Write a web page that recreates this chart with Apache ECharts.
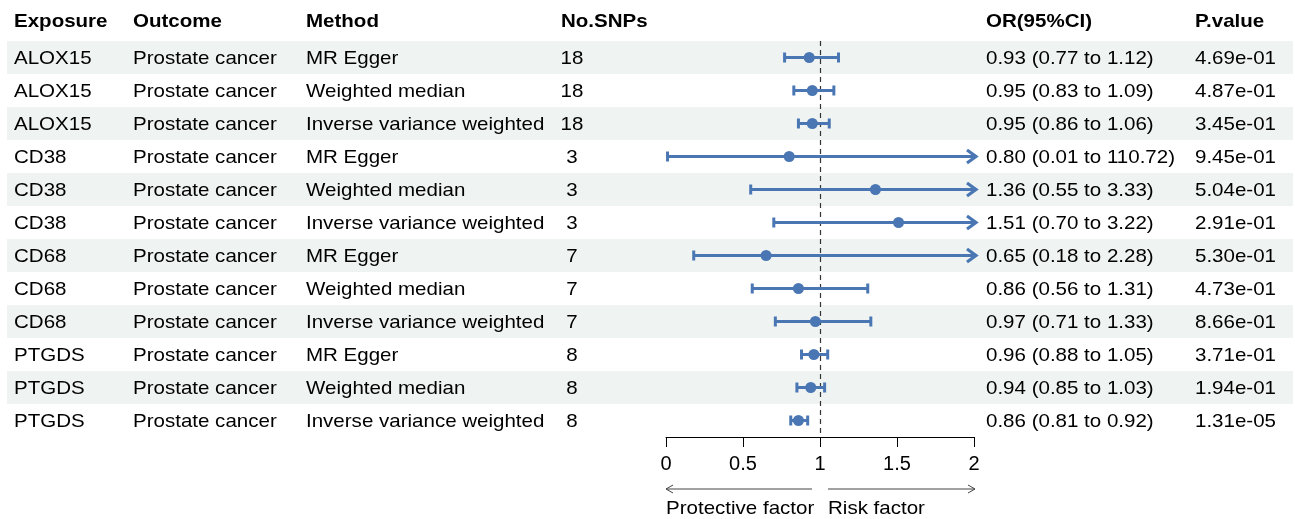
<!DOCTYPE html>
<html>
<head>
<meta charset="utf-8">
<script src="https://cdn.jsdelivr.net/npm/echarts@6/dist/echarts.min.js"></script>
<style>
  html, body { margin: 0; padding: 0; background: #ffffff; }
  #chart { width: 1295px; height: 519px; }
</style>
</head>
<body>
<div id="chart"></div>
<script>
// ---------------- data ----------------
const headers = ['Exposure', 'Outcome', 'Method', 'No.SNPs', '', 'OR(95%CI)', 'P.value'];
const exposures = ['ALOX15', 'ALOX15', 'ALOX15', 'CD38', 'CD38', 'CD38', 'CD68', 'CD68', 'CD68', 'PTGDS', 'PTGDS', 'PTGDS'];
const outcomes = ['Prostate cancer', 'Prostate cancer', 'Prostate cancer', 'Prostate cancer', 'Prostate cancer', 'Prostate cancer',
                  'Prostate cancer', 'Prostate cancer', 'Prostate cancer', 'Prostate cancer', 'Prostate cancer', 'Prostate cancer'];
const methods = ['MR Egger', 'Weighted median', 'Inverse variance weighted',
                 'MR Egger', 'Weighted median', 'Inverse variance weighted',
                 'MR Egger', 'Weighted median', 'Inverse variance weighted',
                 'MR Egger', 'Weighted median', 'Inverse variance weighted'];
const nSNPs = [18, 18, 18, 3, 3, 3, 7, 7, 7, 8, 8, 8];
const orValues = [0.93, 0.95, 0.95, 0.80, 1.36, 1.51, 0.65, 0.86, 0.97, 0.96, 0.94, 0.86];
const lowerCI = [0.77, 0.83, 0.86, 0.01, 0.55, 0.70, 0.18, 0.56, 0.71, 0.88, 0.85, 0.81];
const upperCI = [1.12, 1.09, 1.06, 110.72, 3.33, 3.22, 2.28, 1.31, 1.33, 1.05, 1.03, 0.92];
const pValues = ['4.69e-01', '4.87e-01', '3.45e-01', '9.45e-01', '5.04e-01', '2.91e-01',
                 '5.30e-01', '4.73e-01', '8.66e-01', '3.71e-01', '1.94e-01', '1.31e-05'];
const xMin = 0, xMax = 2, xStep = 0.5;
const refValue = 1;
const leftArrowLabel = 'Protective factor';
const rightArrowLabel = 'Risk factor';

// ---------------- styles ----------------
const FONT = '"Liberation Sans", Arial, sans-serif';
const FS = 19;
const SX = 1.08;
const TY = 1;
const CI_COLOR = '#4a77b4';
const BAND = '#eff3f2';
const colX = { exposure: 14, outcome: 133, method: 306, snp: 572, snpHead: 561, or: 986, p: 1195 };

const rowIds = exposures.map((_, i) => i);
const fmt = v => v.toFixed(2);
const orText = orValues.map((v, i) => fmt(v) + ' (' + fmt(lowerCI[i]) + ' to ' + fmt(upperCI[i]) + ')');

const chart = echarts.init(document.getElementById('chart'), null, { renderer: 'canvas' });

function txt(x, y, s, opts) {
  opts = opts || {};
  return {
    type: 'text', x: x, y: y + TY, scaleX: SX,
    style: {
      text: s, fill: '#000', fontFamily: FONT, fontSize: FS,
      fontWeight: opts.bold ? 'bold' : 'normal',
      align: opts.align || 'left', verticalAlign: 'middle'
    }
  };
}

const option = {
  animation: false,
  backgroundColor: '#ffffff',
  grid: [
    { left: 666, width: 308, top: 41, height: 396 },      // forest
    { left: 7, right: 2, top: 41, height: 396 }           // table
  ],
  xAxis: [
    {
      gridIndex: 0, type: 'value', min: xMin, max: xMax, interval: xStep,
      axisLine: { show: true, lineStyle: { color: '#000', width: 1 } },
      axisTick: { show: true, length: 10, lineStyle: { color: '#000', width: 1 } },
      axisLabel: { color: '#000', fontSize: 20, fontFamily: FONT, margin: 17 },
      splitLine: { show: false }
    },
    { gridIndex: 1, type: 'value', min: 0, max: 1, show: false }
  ],
  yAxis: [
    { gridIndex: 0, type: 'category', data: rowIds, inverse: true, show: false },
    { gridIndex: 1, type: 'category', data: rowIds, inverse: true, show: false }
  ],
  series: [
    {
      type: 'custom', xAxisIndex: 1, yAxisIndex: 1, z: 1, silent: true, clip: false,
      data: rowIds.map(i => [0, i]),
      encode: { x: 0, y: 1 },
      renderItem: function (params, api) {
        const i = api.value(1);
        const p0 = api.coord([0, i]);
        const w = api.size([1, 0])[0];
        const h = api.size([0, 1])[1];
        const y = p0[1];
        const children = [];
        if (i % 2 === 0) {
          children.push({ type: 'rect', shape: { x: p0[0], y: y - h / 2, width: w, height: h }, style: { fill: BAND } });
        }
        children.push(txt(colX.exposure, y, exposures[i]));
        children.push(txt(colX.outcome, y, outcomes[i]));
        children.push(txt(colX.method, y, methods[i]));
        children.push(txt(colX.snp, y, String(nSNPs[i]), { align: 'center' }));
        children.push(txt(colX.or, y, orText[i]));
        children.push(txt(colX.p, y, pValues[i]));
        return { type: 'group', children: children };
      }
    },
    {
      type: 'custom', xAxisIndex: 0, yAxisIndex: 0, z: 5, silent: true, clip: false,
      data: rowIds.map(i => [i, orValues[i], lowerCI[i], upperCI[i]]),
      encode: { x: [1, 2, 3], y: 0 },
      renderItem: function (params, api) {
        const i = api.value(0);
        const est = api.value(1), lo = api.value(2), hi = api.value(3);
        const y = api.coord([est, i])[1];
        const xMinPx = api.coord([xMin, i])[0];
        const xMaxPx = api.coord([xMax, i])[0];
        const xl = Math.max(api.coord([lo, i])[0], xMinPx);
        const xh = Math.min(api.coord([hi, i])[0], xMaxPx);
        const ls = { stroke: CI_COLOR, lineWidth: 3, lineCap: 'butt' };
        const ch = [];
        ch.push({ type: 'line', shape: { x1: xl, y1: y, x2: xh, y2: y }, style: ls });
        const capH = 5;
        if (lo >= xMin) ch.push({ type: 'line', shape: { x1: xl, y1: y - capH, x2: xl, y2: y + capH }, style: { stroke: CI_COLOR, lineWidth: 3 } });
        if (hi <= xMax) {
          ch.push({ type: 'line', shape: { x1: xh, y1: y - capH, x2: xh, y2: y + capH }, style: { stroke: CI_COLOR, lineWidth: 3 } });
        } else {
          ch.push({ type: 'polyline', shape: { points: [[xMaxPx - 7, y - 6.5], [xMaxPx + 2, y], [xMaxPx - 7, y + 6.5]] },
                    style: { stroke: CI_COLOR, lineWidth: 3.2, fill: 'none', lineJoin: 'miter' } });
        }
        if (lo < xMin) {
          ch.push({ type: 'polyline', shape: { points: [[xMinPx + 7, y - 6.5], [xMinPx - 2, y], [xMinPx + 7, y + 6.5]] },
                    style: { stroke: CI_COLOR, lineWidth: 3.2, fill: 'none' } });
        }
        const pc = api.coord([est, i]);
        ch.push({ type: 'circle', shape: { cx: pc[0], cy: pc[1], r: 5.5 }, style: { fill: CI_COLOR } });
        return { type: 'group', children: ch };
      },
      markLine: {
        silent: true, symbol: 'none', label: { show: false },
        lineStyle: { color: '#333333', type: [5, 4], width: 1.2 },
        data: [{ xAxis: refValue }]
      }
    }
  ]
};

chart.setOption(option);

// header + bottom arrows (positions derived from the axis)
const hy = 21;
const graphics = [
  txt(colX.exposure, hy, headers[0], { bold: true }),
  txt(colX.outcome, hy, headers[1], { bold: true }),
  txt(colX.method, hy, headers[2], { bold: true }),
  txt(colX.snpHead, hy, headers[3], { bold: true }),
  txt(colX.or, hy, headers[5], { bold: true }),
  txt(colX.p, hy, headers[6], { bold: true })
];
const px0 = chart.convertToPixel({ xAxisIndex: 0 }, xMin);
const px1 = chart.convertToPixel({ xAxisIndex: 0 }, refValue);
const px2 = chart.convertToPixel({ xAxisIndex: 0 }, xMax);
const ay = 489;
const arrowStyle = { stroke: '#444', lineWidth: 1, fill: 'none' };
graphics.push({ type: 'line', shape: { x1: px0, y1: ay, x2: px1 - 8, y2: ay }, style: arrowStyle });
graphics.push({ type: 'polyline', shape: { points: [[px0 + 7, ay - 4], [px0, ay], [px0 + 7, ay + 4]] }, style: arrowStyle });
graphics.push({ type: 'line', shape: { x1: px1 + 8, y1: ay, x2: px2 + 1, y2: ay }, style: arrowStyle });
graphics.push({ type: 'polyline', shape: { points: [[px2 - 6, ay - 4], [px2 + 1, ay], [px2 - 6, ay + 4]] }, style: arrowStyle });
graphics.push(txt(px0, 508, leftArrowLabel));
graphics.push(txt(px1 + 8, 508, rightArrowLabel));
chart.setOption({ graphic: graphics.map(g => Object.assign({}, g, { z: 10 })) });
</script>
</body>
</html>
